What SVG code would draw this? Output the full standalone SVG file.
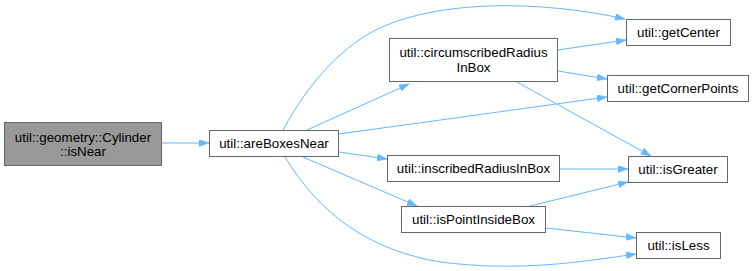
<svg xmlns="http://www.w3.org/2000/svg" width="754" height="271" viewBox="0 0 754 271">
  <style>
    .node rect { fill: #ffffff; stroke: #666666; stroke-width: 1; }
    .node.root rect { fill: #999999; }
    .node text { font-family: "Liberation Sans", Arial, Helvetica, sans-serif; font-size: 13.33px; fill: #000000; text-anchor: middle; }
    .edge { fill: none; stroke: #63b8ff; stroke-width: 1; marker-end: url(#arrow); }
  </style>
  <defs>
    <marker id="arrow" markerUnits="userSpaceOnUse" markerWidth="11" markerHeight="8" refX="10" refY="3.5" orient="auto">
      <path d="M0,0 L10,3.5 L0,7 z" fill="#63b8ff" stroke="#63b8ff" stroke-width="0.5"/>
    </marker>
  </defs>
  <rect width="754" height="271" fill="#ffffff"/>

  <g id="connectors">
    <path class="edge" d="M162,143 L209,143"/>
    <path class="edge" d="M283,130 C310,80 345,44 380,28 C440,0 540,0 625,19"/>
    <path class="edge" d="M307,130 L409,84"/>
    <path class="edge" d="M339,134 L607,97"/>
    <path class="edge" d="M339,152 L387,159"/>
    <path class="edge" d="M303,157 L417,206"/>
    <path class="edge" d="M285,157 C320,215 370,250 440,262 C520,272 580,262 636,254"/>
    <path class="edge" d="M558,50 L626,40"/>
    <path class="edge" d="M558,71 L607,79"/>
    <path class="edge" d="M515,81 L651,156"/>
    <path class="edge" d="M560,169 L628,169"/>
    <path class="edge" d="M530,206 L628,182"/>
    <path class="edge" d="M546,228 L636,238"/>
  </g>

  <g id="node-cylinder-isnear" class="node root">
    <rect x="4.5" y="122.5" width="157" height="43"/>
    <text x="83" y="141.5">util::geometry::Cylinder</text>
    <text x="83" y="156">::isNear</text>
  </g>
  <g id="node-areboxesnear" class="node">
    <rect x="209.5" y="130.5" width="129" height="26"/>
    <text x="274" y="148">util::areBoxesNear</text>
  </g>
  <g id="node-circumscribedradiusinbox" class="node">
    <rect x="389.5" y="38.5" width="168" height="43"/>
    <text x="473.5" y="57">util::circumscribedRadius</text>
    <text x="473.5" y="71.5">InBox</text>
  </g>
  <g id="node-getcenter" class="node">
    <rect x="626.5" y="19.5" width="104" height="26"/>
    <text x="678.5" y="37">util::getCenter</text>
  </g>
  <g id="node-getcornerpoints" class="node">
    <rect x="607.5" y="75.5" width="141" height="26"/>
    <text x="678" y="93">util::getCornerPoints</text>
  </g>
  <g id="node-inscribedradiusinbox" class="node">
    <rect x="387.5" y="155.5" width="172" height="26"/>
    <text x="473.5" y="173">util::inscribedRadiusInBox</text>
  </g>
  <g id="node-isgreater" class="node">
    <rect x="628.5" y="156.5" width="99" height="26"/>
    <text x="678" y="174">util::isGreater</text>
  </g>
  <g id="node-ispointinsidebox" class="node">
    <rect x="401.5" y="206.5" width="144" height="26"/>
    <text x="473.5" y="224">util::isPointInsideBox</text>
  </g>
  <g id="node-isless" class="node">
    <rect x="636.5" y="232.5" width="84" height="26"/>
    <text x="678.5" y="250">util::isLess</text>
  </g>
</svg>
